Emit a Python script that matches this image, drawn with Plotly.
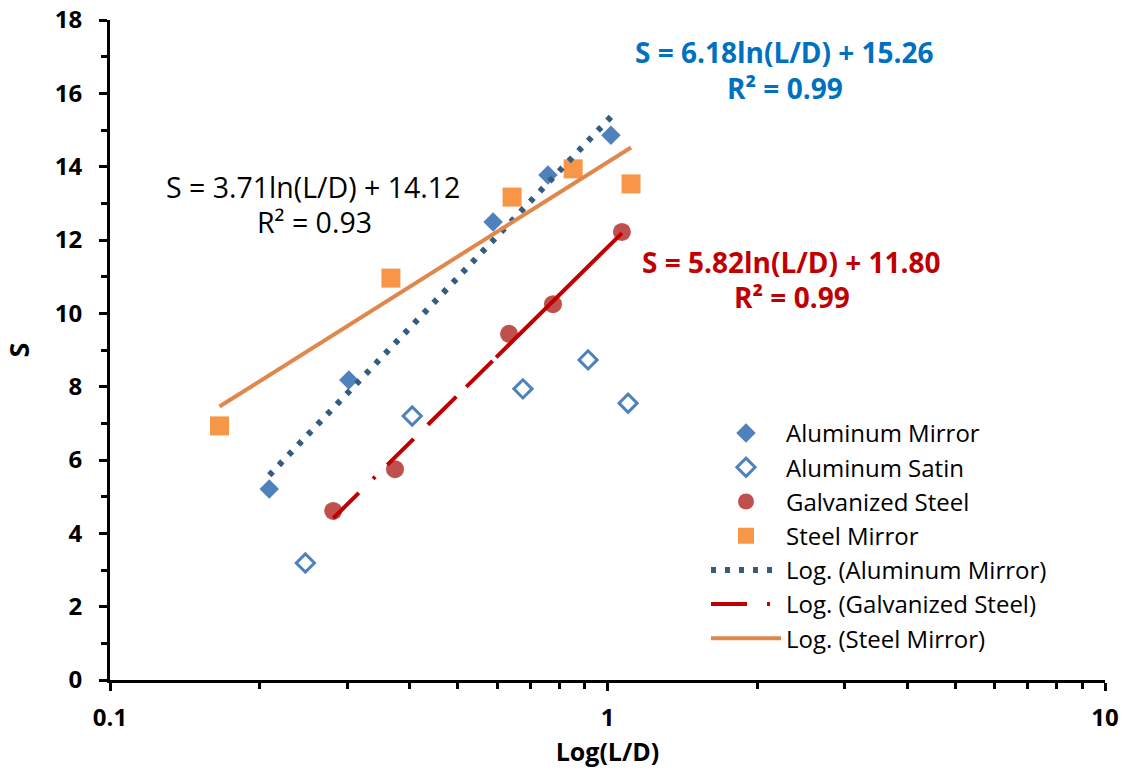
import numpy as np
import plotly.graph_objects as go

# ---------------- data ----------------
al_mirror_x = [0.209, 0.302, 0.589, 0.759, 1.016]
al_mirror_y = [5.21, 8.18, 12.49, 13.77, 14.86]
al_satin_x = [0.247, 0.405, 0.676, 0.914, 1.100]
al_satin_y = [3.19, 7.20, 7.94, 8.73, 7.55]
galv_x = [0.281, 0.374, 0.634, 0.777, 1.069]
galv_y = [4.61, 5.75, 9.44, 10.25, 12.22]
steel_x = [0.166, 0.367, 0.643, 0.853, 1.115]
steel_y = [6.93, 10.96, 13.17, 13.94, 13.53]

# logarithmic trendline coefficients  S = a*ln(L/D) + b
fit_al = (6.18, 15.26)
fit_galv = (5.82, 11.80)
fit_steel = (3.71, 14.12)

FONT = "Open Sans"


def trend(xs, coef):
    xx = np.array([min(xs), max(xs)])
    return xx, coef[0] * np.log(xx) + coef[1]


fig = go.Figure()

fig.add_trace(go.Scatter(x=al_mirror_x, y=al_mirror_y, mode="markers", name="Aluminum Mirror",
                         marker=dict(symbol="diamond", size=15, color="#4F81BD")))
fig.add_trace(go.Scatter(x=al_satin_x, y=al_satin_y, mode="markers", name="Aluminum Satin",
                         marker=dict(symbol="diamond-open", size=14, color="#4F81BD",
                                     line=dict(width=3, color="#4F81BD"))))
fig.add_trace(go.Scatter(x=galv_x, y=galv_y, mode="markers", name="Galvanized Steel",
                         marker=dict(symbol="circle", size=18, color="#C0504D")))
fig.add_trace(go.Scatter(x=steel_x, y=steel_y, mode="markers", name="Steel Mirror",
                         marker=dict(symbol="square", size=19, color="#F79646")))

tx, ty = trend(al_mirror_x, fit_al)
fig.add_trace(go.Scatter(x=tx, y=ty, mode="lines", name="Log. (Aluminum Mirror)",
                         line=dict(color="#335C80", width=6, dash="5px,9px")))
tx, ty = trend(galv_x, fit_galv)
fig.add_trace(go.Scatter(x=tx, y=ty, mode="lines", name="Log. (Galvanized Steel)",
                         line=dict(color="#C00000", width=4,
                                   dash="36px,20px,3px,17px,37px,20px,40px,14px,37px,5px,400px")))
tx, ty = trend(steel_x, fit_steel)
fig.add_trace(go.Scatter(x=tx, y=ty, mode="lines", name="Log. (Steel Mirror)",
                         line=dict(color="#E0874B", width=4)))

annots = [
    dict(text="<b>S = 6.18ln(L/D) + 15.26</b>", x=784, y=52, color="#0070C0", size=28),
    dict(text="<b>R² = 0.99</b>", x=785, y=88, color="#0070C0", size=28),
    dict(text="<b>S = 5.82ln(L/D) + 11.80</b>", x=791, y=262, color="#C00000", size=28),
    dict(text="<b>R² = 0.99</b>", x=792, y=297, color="#C00000", size=28),
    dict(text="S = 3.71ln(L/D) + 14.12", x=313, y=187, color="#000000", size=28.5),
    dict(text="R² = 0.93", x=314, y=222, color="#000000", size=28.5),
]

W, H = 1131, 773
VL, VR, VT, VB = 110, 1105, 20, 680          # plot-area edges in pixels
pw, ph = VR - VL, VB - VT


def px(x):
    return (x - VL) / pw


def py(y):
    return 1 - (y - VT) / ph


for a in annots:
    fig.add_annotation(text=a["text"], xref="paper", yref="paper",
                       x=px(a["x"]), y=py(a["y"]),
                       xanchor="center", yanchor="middle", showarrow=False,
                       font=dict(family=FONT, size=a["size"], color=a["color"]))

fig.update_layout(
    width=W, height=H,
    margin=dict(l=VL, r=W - VR, t=VT, b=H - VB, autoexpand=False),
    paper_bgcolor="white", plot_bgcolor="white",
    font=dict(family=FONT, color="black"),
    showlegend=True,
    legend=dict(x=px(706), y=py(411), xanchor="left", yanchor="top",
                font=dict(family=FONT, size=24, color="black"),
                bgcolor="rgba(0,0,0,0)", itemwidth=70, tracegroupgap=0),
    xaxis=dict(type="log", range=[-1, 1], dtick=1, showgrid=False, zeroline=False,
               automargin=False,
               showline=True, linecolor="black", linewidth=3,
               ticks="outside", ticklen=8, tickwidth=3, tickcolor="black",
               tickfont=dict(family=FONT, size=24, color="black", weight="bold"),
               ticklabelstandoff=6,
               minor=dict(ticks="outside", ticklen=6, tickwidth=3, tickcolor="black", dtick="D1",
                          showgrid=False),
               title=dict(text="<b>Log(L/D)</b>", font=dict(family=FONT, size=25), standoff=12)),
    yaxis=dict(range=[0, 18], dtick=2, showgrid=False, zeroline=False,
               automargin=False,
               showline=True, linecolor="black", linewidth=3,
               ticks="outside", ticklen=8, tickwidth=3, tickcolor="black",
               tickfont=dict(family=FONT, size=24, color="black", weight="bold"),
               ticklabelstandoff=12,
               minor=dict(ticks="outside", ticklen=6, tickwidth=3, tickcolor="black", dtick=1,
                          showgrid=False),
               title=dict(text="<b>S</b>", font=dict(family=FONT, size=27), standoff=22)),
)

# remove the default 8px page margin so the figure fills the window exactly
fig.write_html("out.html", config={"displayModeBar": False},
               post_script="document.body.style.margin='0';")
